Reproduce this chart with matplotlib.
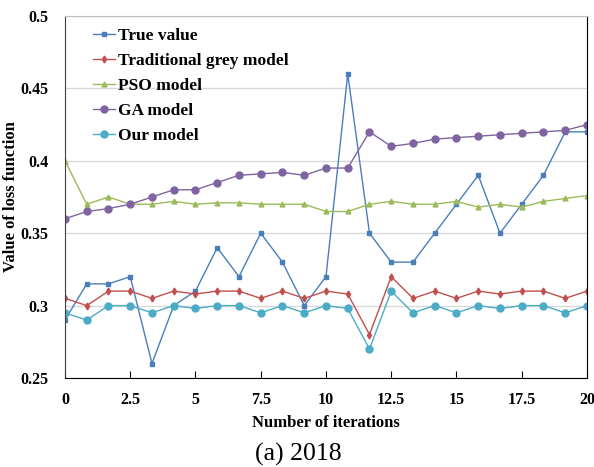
import matplotlib
matplotlib.use("Agg")
import matplotlib.pyplot as plt
from matplotlib.ticker import FormatStrFormatter
import numpy as np

plt.rcParams['font.family'] = ['Liberation Serif', 'DejaVu Serif']

iterations = np.linspace(0, 20, 25)
true_value = [0.29, 0.315, 0.315, 0.32, 0.26, 0.30, 0.31, 0.34, 0.32, 0.35, 0.33, 0.30, 0.32,
              0.46, 0.35, 0.33, 0.33, 0.35, 0.37, 0.39, 0.35, 0.37, 0.39, 0.42, 0.42]
grey_model = [0.305, 0.30, 0.31, 0.31, 0.305, 0.31, 0.308, 0.31, 0.31, 0.305, 0.31, 0.305, 0.31,
              0.308, 0.28, 0.32, 0.305, 0.31, 0.305, 0.31, 0.308, 0.31, 0.31, 0.305, 0.31]
pso_model = [0.40, 0.37, 0.375, 0.37, 0.37, 0.372, 0.37, 0.371, 0.371, 0.37, 0.37, 0.37, 0.365,
             0.365, 0.37, 0.372, 0.37, 0.37, 0.372, 0.368, 0.37, 0.368, 0.372, 0.374, 0.376]
ga_model = [0.36, 0.365, 0.367, 0.37, 0.375, 0.38, 0.38, 0.385, 0.39, 0.391, 0.392, 0.39, 0.395,
            0.395, 0.42, 0.41, 0.412, 0.415, 0.416, 0.417, 0.418, 0.419, 0.42, 0.421, 0.425]
our_model = [0.295, 0.29, 0.30, 0.30, 0.295, 0.30, 0.298, 0.30, 0.30, 0.295, 0.30, 0.295, 0.30,
             0.298, 0.27, 0.31, 0.295, 0.30, 0.295, 0.30, 0.298, 0.30, 0.30, 0.295, 0.30]

fig = plt.figure(figsize=(5.94, 4.67), dpi=100)
ax = fig.add_axes([0.1094, 0.1906, 0.8788, 0.7751])

ax.plot(iterations, true_value, color='#4a7ebb', marker='s', ms=3.5, lw=1, label='True value')
ax.plot(iterations, grey_model, color='#c0504d', marker='d', ms=3.5, lw=1, label='Traditional grey model')
ax.plot(iterations, pso_model, color='#9bbb59', marker='^', ms=3.5, lw=1, label='PSO model')
ax.plot(iterations, ga_model, color='#8064a2', marker='o', ms=5, lw=1, label='GA model')
ax.plot(iterations, our_model, color='#4bacc6', marker='o', ms=5, lw=1, label='Our model')

ax.set_xlim(0, 20)
ax.set_ylim(0.25, 0.5)
ax.set_xticks(np.arange(0, 20.1, 2.5))
ax.set_yticks(np.arange(0.25, 0.501, 0.05))
ax.xaxis.set_major_formatter(FormatStrFormatter('%g'))
ax.yaxis.set_major_formatter(FormatStrFormatter('%g'))
ax.grid(axis='y', color='#d9d9d9', lw=1)
ax.set_axisbelow(True)
ax.tick_params(axis='x', direction='in', length=5, labelsize=11.5, pad=10)
ax.tick_params(axis='y', length=0, labelsize=11.5, pad=12)
for lab in ax.get_xticklabels() + ax.get_yticklabels():
    lab.set_fontweight('bold')
ax.spines['top'].set_color('#bfbfbf')
ax.spines['left'].set_color('#404040')

ax.set_xlabel('Number of iterations', fontsize=12, fontweight='bold')
ax.xaxis.set_label_coords(0.5, -0.102)
ax.set_ylabel('Value of loss function', fontsize=12, fontweight='bold')
ax.yaxis.set_label_coords(-0.088, 0.5)

ax.legend(loc='upper left', frameon=False, prop={'weight': 'bold', 'size': 12.5},
          handlelength=1.3, handletextpad=0.15, borderaxespad=0.3, labelspacing=0.5,
          bbox_to_anchor=(0.03, 1.0))

fig.text(0.503, 0.026, '(a) 2018', fontsize=18.5, ha='center', va='center')

fig.savefig('out.png', dpi=100)
